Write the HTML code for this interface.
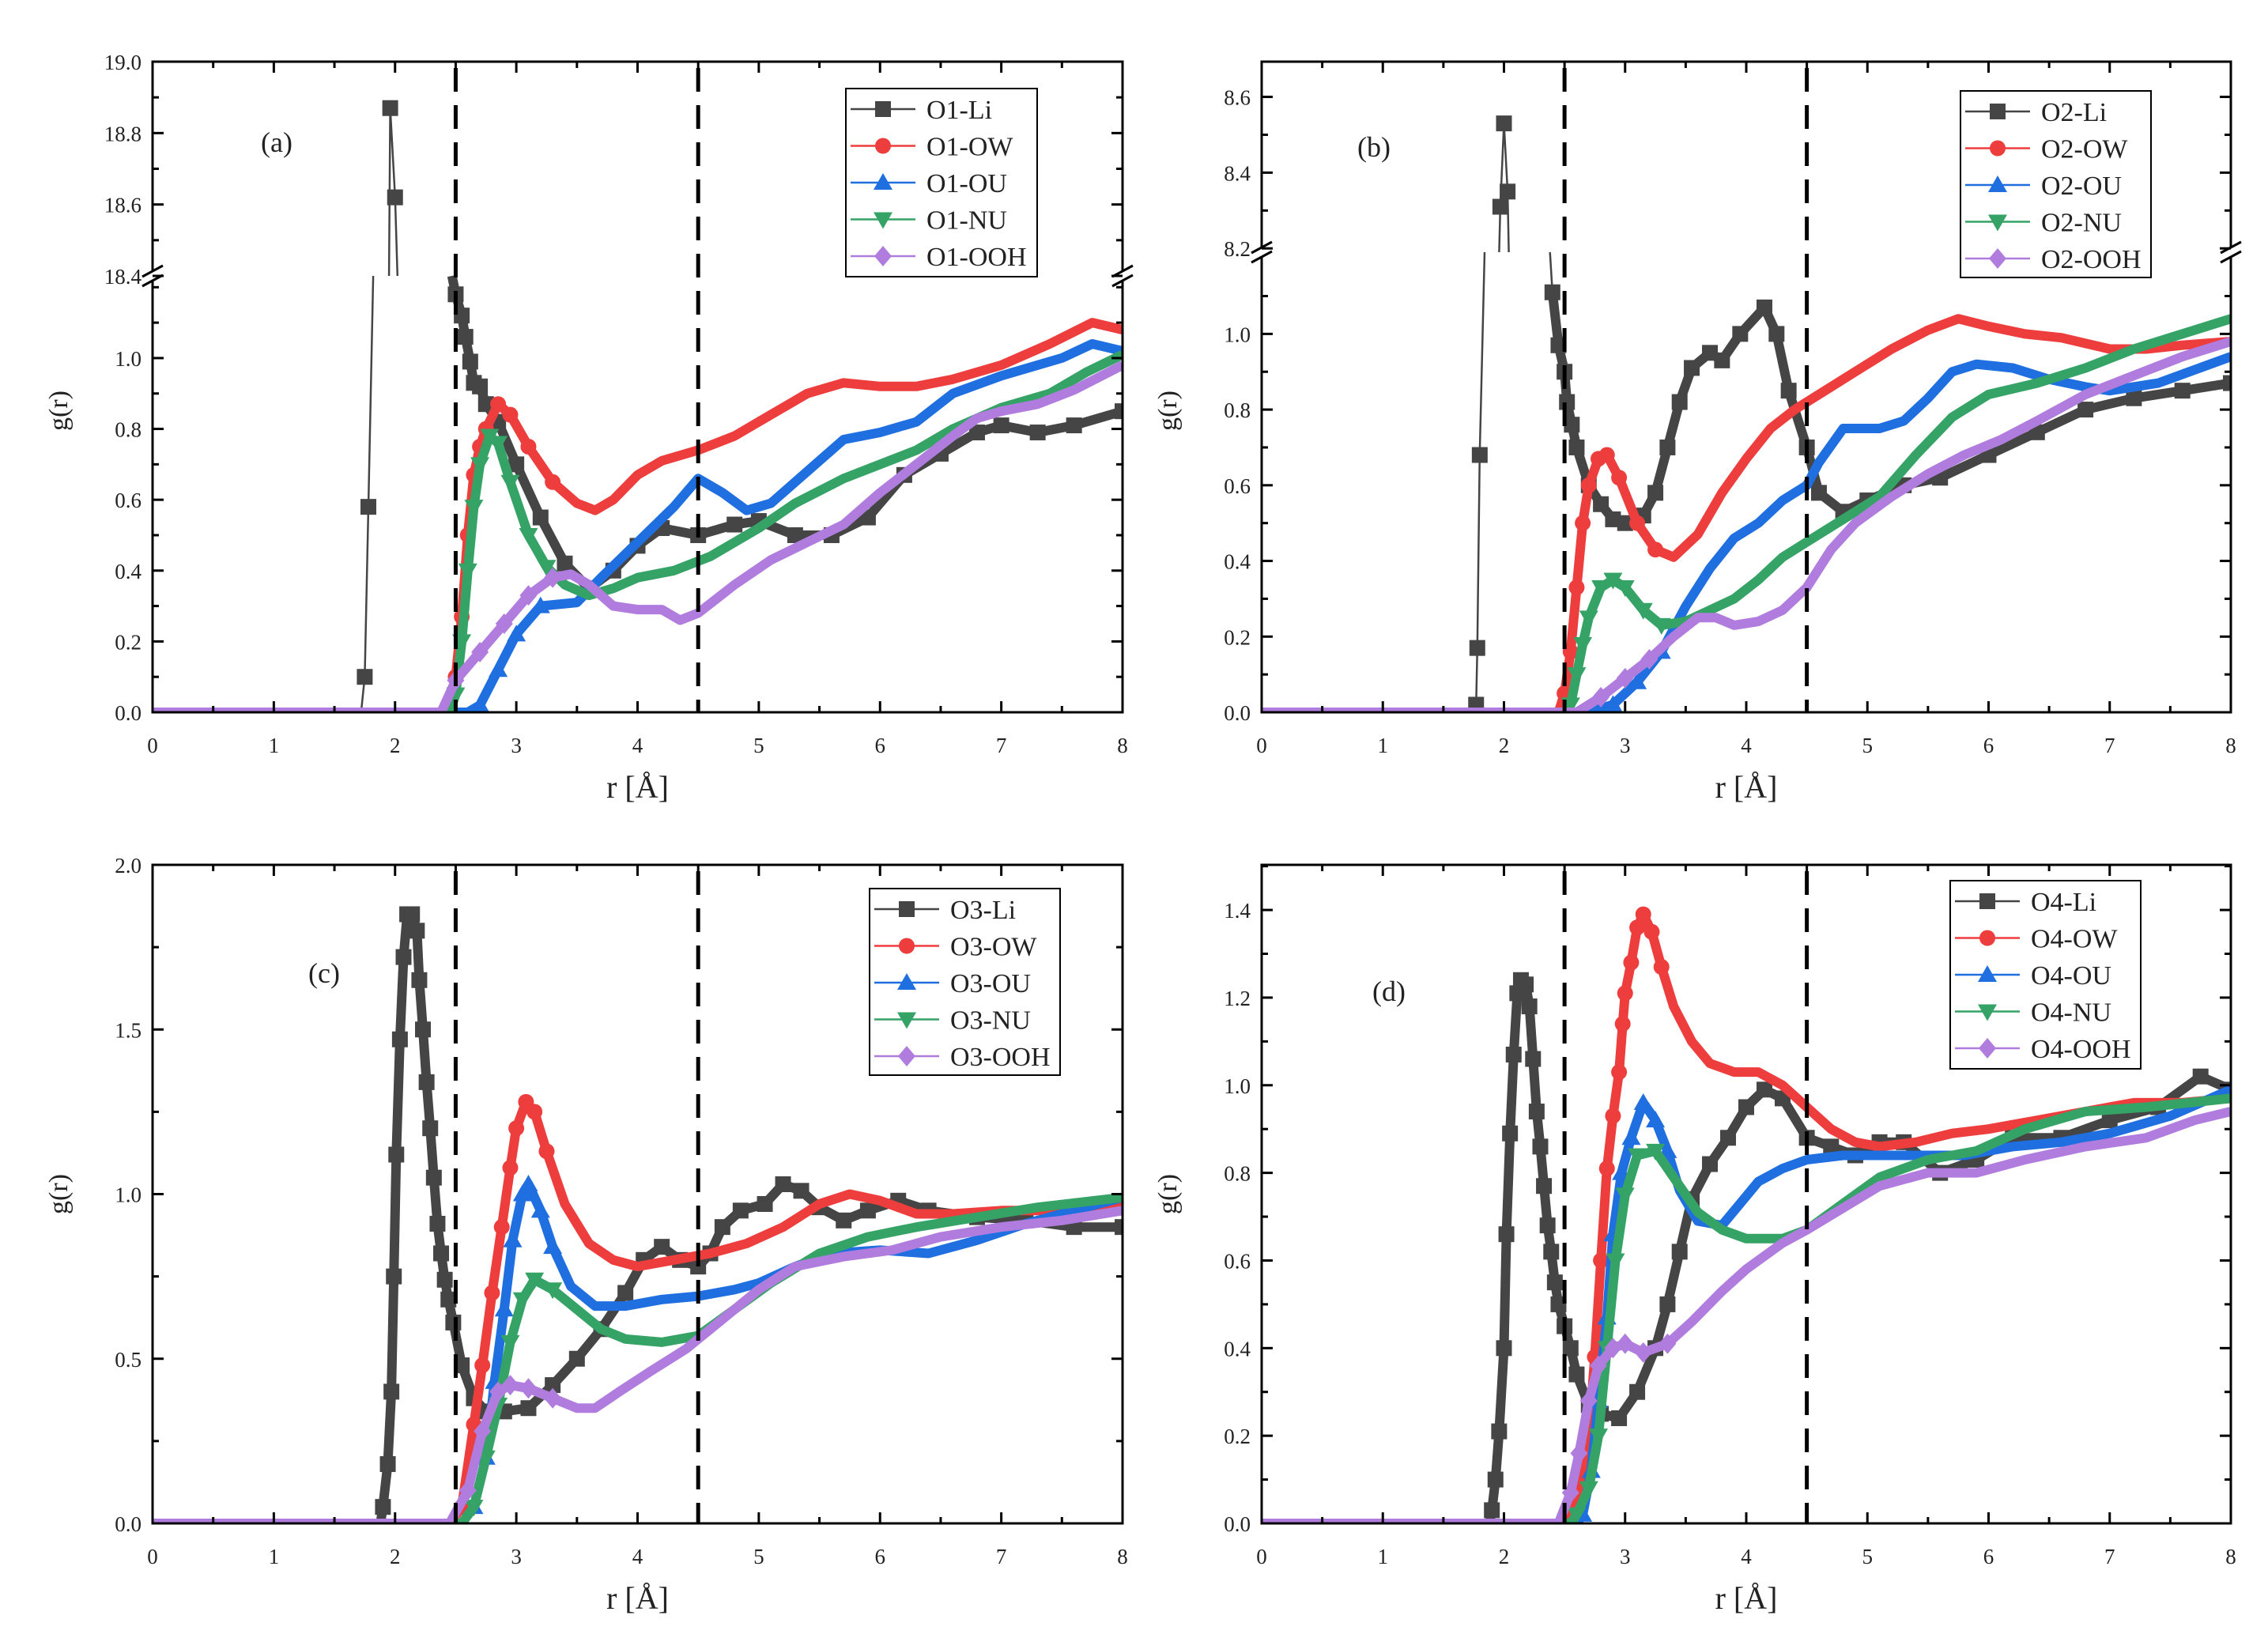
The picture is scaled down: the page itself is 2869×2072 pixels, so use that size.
<!DOCTYPE html>
<html><head><meta charset="utf-8">
<style>
html,body{margin:0;padding:0;background:#fff;}
svg{display:block;font-family:"Liberation Serif","Noto Serif CJK SC",serif;}
</style></head>
<body>
<svg id="fig" width="2869" height="2072" viewBox="0 0 2869 2072" xmlns="http://www.w3.org/2000/svg"></svg>
<script>
// ---------- data (r in Å, g(r)) ----------
const seriesNames = ["Li","OW","OU","NU","OOH"];
// Panel (a) O1
const a_Li_r  = [0,1.72,1.75,1.78,1.82,1.95,1.96,2.0,2.02,2.47,2.5,2.55,2.58,2.62,2.65,2.7,2.75,2.85,3.0,3.2,3.4,3.6,3.8,4.0,4.2,4.5,4.8,5.0,5.3,5.6,5.9,6.2,6.5,6.8,7.0,7.3,7.6,8.0];
const a_Li_g  = [0,0,0.1,0.58,1.232,18.4,18.87,18.62,18.4,1.232,1.18,1.12,1.06,0.99,0.93,0.92,0.87,0.82,0.7,0.55,0.42,0.35,0.4,0.47,0.52,0.5,0.53,0.54,0.5,0.5,0.55,0.67,0.73,0.79,0.81,0.79,0.81,0.85];
const a_OW_r  = [0,2.45,2.5,2.55,2.6,2.65,2.7,2.75,2.85,2.95,3.1,3.3,3.5,3.65,3.8,4.0,4.2,4.5,4.8,5.1,5.4,5.7,6.0,6.3,6.6,7.0,7.4,7.75,8.0];
const a_OW_g  = [0,0,0.1,0.27,0.5,0.67,0.75,0.8,0.87,0.84,0.75,0.65,0.59,0.57,0.6,0.67,0.71,0.74,0.78,0.84,0.9,0.93,0.92,0.92,0.94,0.98,1.04,1.1,1.08];
const a_OU_r  = [0,2.6,2.7,2.85,3.0,3.2,3.5,3.7,4.0,4.3,4.5,4.7,4.9,5.1,5.4,5.7,6.0,6.3,6.6,7.0,7.5,7.75,8.0];
const a_OU_g  = [0,0,0.02,0.12,0.22,0.3,0.31,0.38,0.48,0.58,0.66,0.62,0.57,0.59,0.68,0.77,0.79,0.82,0.9,0.95,1.0,1.04,1.02];
const a_NU_r  = [0,2.45,2.5,2.55,2.6,2.65,2.7,2.78,2.85,2.95,3.1,3.25,3.4,3.6,3.8,4.0,4.3,4.6,5.0,5.3,5.7,6.0,6.3,6.6,7.0,7.4,7.7,8.0];
const a_NU_g  = [0,0,0.05,0.2,0.4,0.58,0.7,0.78,0.76,0.65,0.5,0.41,0.36,0.33,0.35,0.38,0.4,0.44,0.52,0.59,0.66,0.7,0.74,0.8,0.86,0.9,0.96,1.01];
const a_OOH_r = [0,2.38,2.5,2.7,2.9,3.1,3.3,3.45,3.6,3.8,4.0,4.2,4.35,4.5,4.8,5.1,5.4,5.7,6.0,6.3,6.6,6.8,7.0,7.3,7.6,8.0];
const a_OOH_g = [0,0,0.09,0.17,0.25,0.33,0.38,0.39,0.36,0.3,0.29,0.29,0.26,0.28,0.36,0.43,0.48,0.53,0.62,0.7,0.78,0.83,0.85,0.87,0.91,0.98];
// Panel (b) O2
const b_Li_r  = [0,1.75,1.77,1.78,1.8,1.84,1.96,1.97,2.0,2.03,2.04,2.38,2.4,2.45,2.5,2.52,2.56,2.6,2.7,2.8,2.9,3.0,3.15,3.25,3.35,3.45,3.55,3.7,3.8,3.95,4.15,4.25,4.35,4.5,4.6,4.8,5.0,5.3,5.6,6.0,6.4,6.8,7.2,7.6,8.0];
const b_Li_g  = [0,0,0.02,0.17,0.68,1.216,8.19,8.31,8.53,8.35,8.19,1.216,1.11,0.97,0.9,0.82,0.76,0.7,0.6,0.55,0.51,0.5,0.52,0.58,0.7,0.82,0.91,0.95,0.93,1.0,1.07,1.0,0.85,0.7,0.58,0.53,0.56,0.6,0.62,0.68,0.74,0.8,0.83,0.85,0.87];
const b_OW_r  = [0,2.45,2.5,2.55,2.6,2.65,2.7,2.78,2.85,2.95,3.1,3.25,3.4,3.6,3.8,4.0,4.2,4.4,4.6,4.9,5.2,5.5,5.75,6.0,6.3,6.6,7.0,7.3,7.6,8.0];
const b_OW_g  = [0,0,0.05,0.16,0.33,0.5,0.6,0.67,0.68,0.62,0.5,0.43,0.41,0.47,0.58,0.67,0.75,0.8,0.84,0.9,0.96,1.01,1.04,1.02,1.0,0.99,0.96,0.96,0.97,0.98];
const b_OU_r  = [0,2.7,2.9,3.1,3.3,3.5,3.7,3.9,4.1,4.3,4.5,4.6,4.8,5.1,5.3,5.5,5.7,5.9,6.2,6.5,6.8,7.0,7.4,8.0];
const b_OU_g  = [0,0,0.02,0.08,0.16,0.28,0.38,0.46,0.5,0.56,0.6,0.66,0.75,0.75,0.77,0.83,0.9,0.92,0.91,0.88,0.86,0.85,0.87,0.94];
const b_NU_r  = [0,2.5,2.55,2.6,2.65,2.7,2.8,2.9,3.0,3.15,3.3,3.5,3.7,3.9,4.1,4.3,4.5,4.8,5.1,5.4,5.7,6.0,6.4,6.8,7.2,7.6,8.0];
const b_NU_g  = [0,0,0.02,0.1,0.18,0.25,0.33,0.35,0.33,0.27,0.23,0.24,0.27,0.3,0.35,0.41,0.45,0.51,0.57,0.68,0.78,0.84,0.87,0.91,0.96,1.0,1.04];
const b_OOH_r = [0,2.6,2.8,3.0,3.2,3.4,3.6,3.75,3.9,4.1,4.3,4.5,4.7,4.9,5.2,5.5,5.8,6.1,6.4,6.8,7.2,7.6,8.0];
const b_OOH_g = [0,0,0.04,0.09,0.14,0.2,0.25,0.25,0.23,0.24,0.27,0.33,0.43,0.5,0.57,0.63,0.68,0.72,0.77,0.84,0.89,0.94,0.98];
// Panel (c) O3
const c_Li_r  = [0,1.88,1.9,1.94,1.97,1.99,2.01,2.04,2.07,2.1,2.14,2.18,2.2,2.23,2.26,2.29,2.32,2.35,2.38,2.41,2.44,2.48,2.55,2.65,2.75,2.9,3.1,3.3,3.5,3.7,3.9,4.05,4.2,4.35,4.5,4.6,4.7,4.85,5.05,5.2,5.35,5.5,5.7,5.9,6.15,6.4,6.8,7.2,7.6,8.0];
const c_Li_g  = [0,0,0.05,0.18,0.4,0.75,1.12,1.47,1.72,1.85,1.85,1.8,1.65,1.5,1.34,1.2,1.05,0.91,0.82,0.74,0.68,0.61,0.48,0.38,0.34,0.34,0.35,0.42,0.5,0.59,0.7,0.8,0.84,0.8,0.78,0.82,0.9,0.95,0.97,1.03,1.01,0.96,0.92,0.95,0.98,0.95,0.93,0.92,0.9,0.9];
const c_OW_r  = [0,2.45,2.55,2.65,2.72,2.8,2.88,2.95,3.0,3.08,3.15,3.25,3.4,3.6,3.8,4.0,4.3,4.6,4.9,5.2,5.5,5.75,6.0,6.3,6.6,7.0,7.5,8.0];
const c_OW_g  = [0,0,0.05,0.3,0.48,0.7,0.9,1.08,1.2,1.28,1.25,1.13,0.97,0.85,0.8,0.78,0.8,0.82,0.85,0.9,0.97,1.0,0.98,0.94,0.94,0.95,0.95,0.96];
const c_OU_r  = [0,2.55,2.65,2.75,2.82,2.9,2.97,3.05,3.1,3.2,3.3,3.45,3.65,3.9,4.2,4.5,4.8,5.0,5.3,5.6,6.0,6.4,6.8,7.2,7.6,8.0];
const c_OU_g  = [0,0,0.05,0.2,0.43,0.65,0.86,1.0,1.03,0.95,0.84,0.72,0.66,0.66,0.68,0.69,0.71,0.73,0.78,0.82,0.83,0.82,0.86,0.91,0.95,0.99];
const c_NU_r  = [0,2.55,2.65,2.75,2.85,2.95,3.05,3.15,3.3,3.5,3.7,3.9,4.2,4.5,4.8,5.1,5.5,5.9,6.3,6.8,7.3,8.0];
const c_NU_g  = [0,0,0.05,0.2,0.36,0.55,0.68,0.74,0.71,0.65,0.59,0.56,0.55,0.57,0.65,0.73,0.82,0.87,0.9,0.93,0.96,0.99];
const c_OOH_r = [0,2.45,2.6,2.72,2.85,2.95,3.1,3.3,3.5,3.65,3.85,4.1,4.4,4.7,5.0,5.3,5.7,6.1,6.5,7.0,7.5,8.0];
const c_OOH_g = [0,0,0.1,0.28,0.4,0.42,0.41,0.38,0.35,0.35,0.4,0.46,0.53,0.62,0.71,0.78,0.81,0.83,0.87,0.9,0.92,0.95];
// Panel (d) O4
const d_Li_r  = [0,1.88,1.9,1.93,1.96,2.0,2.02,2.05,2.08,2.11,2.14,2.18,2.21,2.24,2.27,2.3,2.33,2.36,2.39,2.42,2.45,2.5,2.55,2.6,2.7,2.8,2.95,3.1,3.25,3.35,3.45,3.55,3.7,3.85,4.0,4.15,4.3,4.5,4.7,4.9,5.1,5.3,5.6,5.9,6.2,6.6,7.0,7.4,7.75,8.0];
const d_Li_g  = [0,0,0.03,0.1,0.21,0.4,0.66,0.89,1.07,1.21,1.24,1.23,1.18,1.06,0.94,0.86,0.77,0.68,0.62,0.55,0.5,0.45,0.4,0.34,0.27,0.25,0.24,0.3,0.4,0.5,0.62,0.74,0.82,0.88,0.95,0.99,0.97,0.88,0.86,0.84,0.87,0.87,0.8,0.83,0.88,0.88,0.92,0.95,1.02,0.99];
const d_OW_r  = [0,2.5,2.6,2.7,2.75,2.8,2.85,2.9,2.95,2.98,3.0,3.05,3.1,3.15,3.22,3.3,3.4,3.55,3.7,3.9,4.1,4.3,4.5,4.7,4.9,5.1,5.4,5.7,6.0,6.4,6.8,7.2,7.6,8.0];
const d_OW_g  = [0,0,0.05,0.2,0.38,0.6,0.81,0.93,1.03,1.14,1.21,1.28,1.36,1.39,1.35,1.27,1.18,1.1,1.05,1.03,1.03,1.0,0.95,0.9,0.87,0.86,0.87,0.89,0.9,0.92,0.94,0.96,0.96,0.97];
const d_OU_r  = [0,2.6,2.65,2.72,2.78,2.85,2.9,2.97,3.05,3.15,3.25,3.35,3.45,3.6,3.8,3.95,4.1,4.3,4.5,4.8,5.1,5.4,5.8,6.2,6.6,7.0,7.5,8.0];
const d_OU_g  = [0,0,0.02,0.12,0.28,0.47,0.66,0.8,0.88,0.96,0.92,0.85,0.76,0.69,0.68,0.73,0.78,0.81,0.83,0.84,0.84,0.84,0.84,0.86,0.87,0.89,0.93,0.99];
const d_NU_r  = [0,2.55,2.6,2.7,2.78,2.85,2.92,3.0,3.1,3.25,3.4,3.6,3.8,4.0,4.3,4.5,4.8,5.1,5.5,5.9,6.3,6.8,7.3,8.0];
const d_NU_g  = [0,0,0.02,0.08,0.2,0.4,0.6,0.75,0.84,0.85,0.79,0.71,0.67,0.65,0.65,0.67,0.73,0.79,0.83,0.85,0.9,0.94,0.95,0.97];
const d_OOH_r = [0,2.45,2.55,2.62,2.7,2.78,2.9,3.0,3.15,3.35,3.55,3.8,4.0,4.3,4.5,4.8,5.1,5.5,5.9,6.3,6.8,7.3,7.7,8.0];
const d_OOH_g = [0,0,0.07,0.16,0.28,0.36,0.4,0.41,0.39,0.41,0.46,0.53,0.58,0.64,0.67,0.72,0.77,0.8,0.8,0.83,0.86,0.88,0.92,0.94];

// ---------- drawing ----------
const NS = "http://www.w3.org/2000/svg";
const svg = document.getElementById("fig");
const COLORS = {Li:"#454545", OW:"#ee3d3d", OU:"#1f6fe0", NU:"#36a366", OOH:"#b07ddf"};
function mk(tag, attrs, parent){
  const e = document.createElementNS(NS, tag);
  for (const k in attrs) e.setAttribute(k, attrs[k]);
  (parent||svg).appendChild(e);
  return e;
}
function linMap(d0,d1,p0,p1){ return v => p0 + (v-d0)/(d1-d0)*(p1-p0); }

const panels = [
  {id:"a", tag:"O1", x0:193, x1:1420, y0:78, y1:901, brk:{yb:349, lowTop:1.232, upBot:18.4, upTop:19.0},
   lowTicks:[0,0.2,0.4,0.6,0.8,1.0], lowMinor:0.1, upTicks:[18.4,18.6,18.8,19.0], upMinor:0.1,
   legend:{x:1070,y:112,w:242,h:238}, label:{x:350,y:192}, sparseLi:true,
   data:{Li:[a_Li_r,a_Li_g],OW:[a_OW_r,a_OW_g],OU:[a_OU_r,a_OU_g],NU:[a_NU_r,a_NU_g],OOH:[a_OOH_r,a_OOH_g]}},
  {id:"b", tag:"O2", x0:1596, x1:2822, y0:78, y1:901, brk:{yb:319, lowTop:1.216, upBot:8.19, upTop:8.693},
   lowTicks:[0,0.2,0.4,0.6,0.8,1.0], lowMinor:0.1, upTicks:[8.2,8.4,8.6], upMinor:0.1,
   legend:{x:2480,y:115,w:241,h:236}, label:{x:1738,y:198}, sparseLi:true,
   data:{Li:[b_Li_r,b_Li_g],OW:[b_OW_r,b_OW_g],OU:[b_OU_r,b_OU_g],NU:[b_NU_r,b_NU_g],OOH:[b_OOH_r,b_OOH_g]}},
  {id:"c", tag:"O3", x0:193, x1:1420, y0:1094, y1:1927, ymax:2.0,
   lowTicks:[0,0.5,1.0,1.5,2.0], lowMinor:0.25,
   legend:{x:1100,y:1124,w:241,h:236}, label:{x:410,y:1243}, sparseLi:false,
   data:{Li:[c_Li_r,c_Li_g],OW:[c_OW_r,c_OW_g],OU:[c_OU_r,c_OU_g],NU:[c_NU_r,c_NU_g],OOH:[c_OOH_r,c_OOH_g]}},
  {id:"d", tag:"O4", x0:1596, x1:2822, y0:1094, y1:1927, ymax:1.503,
   lowTicks:[0,0.2,0.4,0.6,0.8,1.0,1.2,1.4], lowMinor:0.1,
   legend:{x:2467,y:1114,w:241,h:238}, label:{x:1757,y:1266}, sparseLi:false,
   data:{Li:[d_Li_r,d_Li_g],OW:[d_OW_r,d_OW_g],OU:[d_OU_r,d_OU_g],NU:[d_NU_r,d_NU_g],OOH:[d_OOH_r,d_OOH_g]}}
];

function marker(g, kind, x, y, s, color){
  let e;
  if (kind==="Li") e = mk("rect",{x:x-s/2,y:y-s/2,width:s,height:s,fill:color},g);
  else if (kind==="OW") e = mk("circle",{cx:x,cy:y,r:s/2,fill:color},g);
  else if (kind==="OU") e = mk("polygon",{points:`${x},${y-s*0.6} ${x-s*0.6},${y+s*0.45} ${x+s*0.6},${y+s*0.45}`,fill:color},g);
  else if (kind==="NU") e = mk("polygon",{points:`${x},${y+s*0.6} ${x-s*0.6},${y-s*0.45} ${x+s*0.6},${y-s*0.45}`,fill:color},g);
  else e = mk("polygon",{points:`${x},${y-s*0.65} ${x+s*0.55},${y} ${x},${y+s*0.65} ${x-s*0.55},${y}`,fill:color},g);
  return e;
}

panels.forEach(p=>{
  const pg = mk("g",{});
  
  
  const X = linMap(0,8,p.x0,p.x1);
  let Y, region;
  if (p.brk){
    const b=p.brk;
    const lo = linMap(0,b.lowTop,p.y1,b.yb), up = linMap(b.upBot,b.upTop,b.yb,p.y0);
    Y = g => g<=b.lowTop ? lo(g) : (g>=b.upBot ? up(g) : b.yb);
    region = g => g<=b.lowTop+1e-9 ? 0 : 1;
  } else { Y = linMap(0,p.ymax,p.y1,p.y0); region = g => 0; }

  const cp = mk("clipPath",{id:"clip"+p.id},pg);
  mk("rect",{x:p.x0,y:p.y0,width:p.x1-p.x0,height:p.y1-p.y0},cp);

  const sg = mk("g",{"clip-path":`url(#clip${p.id})`},pg);
  seriesNames.forEach(name=>{
    const [rs,gs] = p.data[name];
    const col = COLORS[name];
    const grp = mk("g",{},sg);
    
    
    const sparse = (name==="Li" && p.sparseLi);
    const segs=[]; let seg=[]; let prevReg=null;
    rs.forEach((r,i)=>{
      const rg = region(gs[i]);
      if (prevReg!==null && rg!==prevReg){ segs.push(seg); seg=[]; }
      seg.push(`${X(r).toFixed(1)},${Y(gs[i]).toFixed(1)}`);
      prevReg = rg;
    });
    if(seg.length) segs.push(seg);
    segs.forEach(s=>{
      if (s.length<2) return;
      const l = mk("polyline",{points:s.join(" "),fill:"none",stroke:col,"stroke-width":sparse?2.5:12,"stroke-linejoin":"round"},grp);
      
      
    });
    if (sparse){
      // dense-marker region beyond the first peak: thick band
      const tail = [];
      rs.forEach((r,i)=>{ if (r>=2.4 && region(gs[i])===0) tail.push(`${X(r).toFixed(1)},${Y(gs[i]).toFixed(1)}`); });
      const l = mk("polyline",{points:tail.join(" "),fill:"none",stroke:col,"stroke-width":12,"stroke-linejoin":"round"},grp);
      
      
    }
    rs.forEach((r,i)=>{
      const g=gs[i];
      if (g<=0.001) return;
      if (p.brk && Math.abs(Y(g)-p.brk.yb)<8) return;
      if (!(sparse || r<3.4 || name==="Li")) return;
      const m = marker(grp,name,X(r),Y(g),20,col);
      
      
    });
  });

  [2.5,4.5].forEach(v=>{
    const l = mk("line",{x1:X(v),x2:X(v),y1:p.y0+8,y2:p.y1,stroke:"#000","stroke-width":5,"stroke-dasharray":"30 17"},pg);
    
    
  });

  const fr = mk("rect",{x:p.x0,y:p.y0,width:p.x1-p.x0,height:p.y1-p.y0,fill:"none",stroke:"#000","stroke-width":3},pg);
  
  
  if (p.brk){
    const yb=p.brk.yb;
    [p.x0,p.x1].forEach(xx=>{
      mk("rect",{x:xx-8,y:yb-5,width:16,height:10,fill:"#fff"},pg);
      mk("line",{x1:xx-13,y1:yb+1,x2:xx+13,y2:yb-13,stroke:"#000","stroke-width":3},pg);
      mk("line",{x1:xx-13,y1:yb+13,x2:xx+13,y2:yb-1,stroke:"#000","stroke-width":3},pg);
    });
  }

  const xg = mk("g",{},pg);
  
  
  for(let v=0; v<=8.001; v+=0.5){
    const x=X(v), major = Math.abs(v-Math.round(v))<1e-6, L = major?14:8;
    mk("line",{x1:x,x2:x,y1:p.y1,y2:p.y1-L,stroke:"#000","stroke-width":3},xg);
    mk("line",{x1:x,x2:x,y1:p.y0,y2:p.y0+L,stroke:"#000","stroke-width":3},xg);
    if (major){
      const t = mk("text",{x:x,y:p.y1+51,"text-anchor":"middle","font-size":27,fill:"#222"},xg);
      t.textContent = String(Math.round(v));
    }
  }
  const xt = mk("text",{x:(p.x0+p.x1)/2,y:p.y1+108,"text-anchor":"middle","font-size":40,fill:"#222"},pg);
  xt.textContent = "r [Å]";
  
  

  const yg = mk("g",{},pg);
  
  
  function yTicks(ticks, minorStep, lo, hi){
    for(let v=lo; v<=hi+1e-6; v+=minorStep){
      const y=Y(v);
      if (y<p.y0-1) continue;
      const major = ticks.some(t=>Math.abs(t-v)<1e-6), L = major?14:8;
      mk("line",{x1:p.x0,x2:p.x0+L,y1:y,y2:y,stroke:"#000","stroke-width":3},yg);
      mk("line",{x1:p.x1,x2:p.x1-L,y1:y,y2:y,stroke:"#000","stroke-width":3},yg);
    }
    ticks.forEach(v=>{
      const t = mk("text",{x:p.x0-14,y:Y(v)+10,"text-anchor":"end","font-size":27,fill:"#222"},yg);
      t.textContent = v.toFixed(1);
    });
  }
  if (p.brk){
    yTicks(p.lowTicks,p.lowMinor,0,p.brk.lowTop-0.02);
    yTicks(p.upTicks,p.upMinor,p.upTicks[0],p.brk.upTop);
  } else yTicks(p.lowTicks,p.lowMinor,0,p.ymax);
  const ymid = (p.y0+p.y1)/2;
  const yt = mk("text",{"text-anchor":"middle","font-size":34,fill:"#222",transform:`translate(${p.x0-108},${ymid+(p.brk?30:0)}) rotate(-90)`},pg);
  yt.textContent = "g(r)";
  
  

  const pl = mk("text",{x:p.label.x,y:p.label.y,"text-anchor":"middle","font-size":36,fill:"#222"},pg);
  pl.textContent = `(${p.id})`;
  
  

  const L = p.legend;
  const lg = mk("g",{},pg);
  
  
  mk("rect",{x:L.x,y:L.y,width:L.w,height:L.h,fill:"#fff",stroke:"#000","stroke-width":2},lg);
  seriesNames.forEach((n,i)=>{
    const ey = L.y + 26 + i*46.5;
    const eg = mk("g",{},lg);
    
    
    mk("line",{x1:L.x+6,x2:L.x+88,y1:ey,y2:ey,stroke:COLORS[n],"stroke-width":2.5},eg);
    marker(eg,n,L.x+47,ey,20,COLORS[n]);
    const t = mk("text",{x:L.x+102,y:ey+12,"font-size":34,fill:"#222"},eg);
    t.textContent = `${p.tag}-${n}`;
  });
});
</script>
</body></html>
